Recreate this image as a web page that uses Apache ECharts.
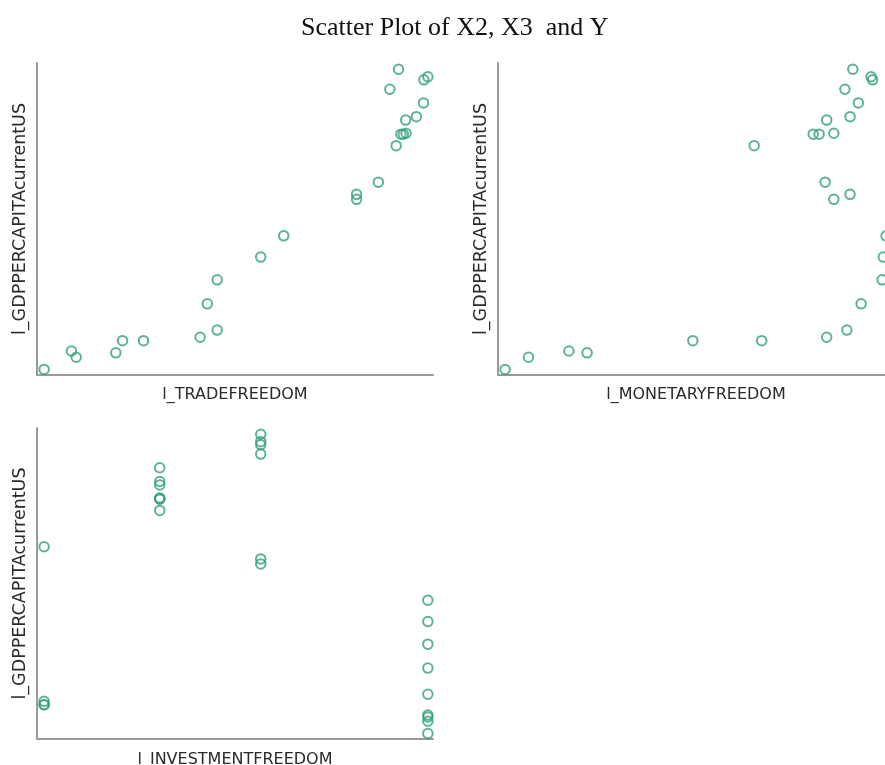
<!DOCTYPE html>
<html>
<head>
<meta charset="utf-8">
<script src="https://cdn.jsdelivr.net/npm/echarts@6/dist/echarts.min.js"></script>
<style>
  html, body { margin: 0; padding: 0; background: #ffffff; }
  #chart { width: 885px; height: 765px; }
</style>
</head>
<body>
<div id="chart"></div>
<script>
// Values (no tick labels in the original, so scaled 0-100)
const yName = "l_GDPPERCAPITAcurrentUS";
const xNames = ["l_TRADEFREEDOM", "l_MONETARYFREEDOM", "l_INVESTMENTFREEDOM"];

const gdp = [1.8, 5.7, 7.7, 7.1, 11.0, 11.0, 12.1, 14.4, 22.8, 30.5, 37.8, 44.6, 57.9,
             56.3, 61.8, 73.5, 77.2, 77.2, 77.5, 81.7, 82.8, 87.2, 91.6, 98.0, 94.6, 95.6];
const tradeFreedom = [1.8, 9.9, 8.7, 19.9, 21.6, 26.9, 41.2, 45.5, 43.0, 45.5, 56.5, 62.3, 80.7,
                      80.7, 86.2, 90.7, 91.9, 92.5, 93.2, 93.1, 95.8, 97.6, 89.1, 91.3, 97.7, 98.7];
const monetaryFreedom = [1.8, 7.7, 17.9, 22.5, 49.2, 66.6, 83.0, 88.1, 91.7, 97.0, 97.3, 98.0, 88.9,
                         84.8, 82.6, 64.7, 79.6, 81.1, 84.8, 83.0, 88.9, 91.0, 87.6, 89.6, 94.6, 94.2];
const investmentFreedom = [98.7, 98.7, 98.7, 98.7, 1.8, 1.8, 1.8, 98.7, 98.7, 98.7, 98.7, 98.7, 56.5,
                           56.5, 1.8, 31.0, 31.0, 31.0, 31.0, 31.0, 31.0, 31.0, 56.5, 56.5, 56.5, 56.5];

const xSeries = [tradeFreedom, monetaryFreedom, investmentFreedom];

const chart = echarts.init(document.getElementById('chart'), null, { renderer: 'canvas' });

const axisFont = 'DejaVu Sans';
// The second panel runs past the right edge of the picture (full width 396px, 387px visible)
const fullW = 396, visW2 = 387;
const grids = [
  { left: 37, top: 63, width: fullW, height: 312, outerBoundsMode: 'none' },
  { left: 498, top: 63, width: visW2, height: 312, outerBoundsMode: 'none' },
  { left: 37, top: 428, width: fullW, height: 311, outerBoundsMode: 'none' }
];
// visible part of the 0-100 monetary axis
const xMax = [100, 100 * visW2 / fullW, 100];

const xAxes = xNames.map((n, i) => ({
  type: 'value', gridIndex: i, min: 0, max: xMax[i],
  name: n, nameLocation: 'middle', nameGap: 12,
  nameTextStyle: { fontFamily: axisFont, fontSize: 16, color: '#2a2a2a' },
  axisLine: { show: true, onZero: false, lineStyle: { color: '#9a9a9a', width: 2 } },
  axisTick: { show: false }, axisLabel: { show: false }, splitLine: { show: false }
}));
xAxes[2].nameGap = 13;

const yAxes = xNames.map((n, i) => ({
  type: 'value', gridIndex: i, min: 0, max: 100,
  name: yName, nameLocation: 'middle', nameGap: 8,
  nameTextStyle: { fontFamily: axisFont, fontSize: 17.5, color: '#2a2a2a' },
  axisLine: { show: true, onZero: false, lineStyle: { color: '#9a9a9a', width: 2 } },
  axisTick: { show: false }, axisLabel: { show: false }, splitLine: { show: false }
}));

const series = xSeries.map((xs, i) => ({
  type: 'scatter', xAxisIndex: i, yAxisIndex: i,
  data: xs.map((x, k) => [x, gdp[k]]),
  symbol: 'circle', symbolSize: 9.5,
  itemStyle: { color: 'rgba(255,255,255,0)', borderColor: '#33a079', borderWidth: 2 },
  clip: false, silent: true
}));

chart.setOption({
  backgroundColor: '#ffffff',
  animation: false,
  title: {
    text: 'Scatter Plot of X2, X3  and Y',
    left: 296, top: 10,
    textStyle: { fontFamily: 'Liberation Serif', fontWeight: 'normal', fontSize: 26, color: '#111' }
  },
  grid: grids,
  xAxis: xAxes,
  yAxis: yAxes,
  series: series
});

// centre the monetary axis name on the full (partly hidden) axis, as in the original
const centreX2 = chart.convertToPixel({ xAxisIndex: 1 }, 50);
xAxes[1].nameTextStyle = Object.assign({}, xAxes[1].nameTextStyle,
  { padding: [0, 0, 0, 2 * (centreX2 - (498 + visW2 / 2))] });
chart.setOption({ xAxis: xAxes });
</script>
</body>
</html>
